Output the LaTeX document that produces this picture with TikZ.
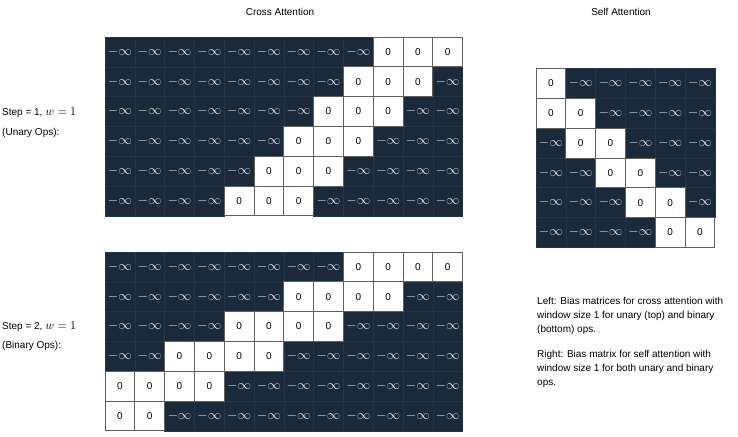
\documentclass[tikz,border=0pt]{standalone}
\usepackage{fontspec}
\setmainfont{Liberation Sans}
\definecolor{navy}{HTML}{1B2A3B}
\definecolor{gridl}{HTML}{243446}
\definecolor{ninfc}{HTML}{DCE0E4}
\newcommand{\ninfsym}{\scalebox{1.35}{$-\infty$}}
\begin{document}
\begin{tikzpicture}[x=1pt,y=-1pt,
  cellbase/.style={minimum width=29.8pt, minimum height=29.8pt, inner sep=0pt, outer sep=0pt, anchor=north west},
  ninf/.style={cellbase, fill=navy, draw=gridl, line width=0.5pt, text=ninfc},
  zero/.style={cellbase, fill=white, draw=gray!75!black, line width=0.8pt, font=\fontsize{10}{12}\selectfont},
  lbl/.style={font=\fontsize{10}{12}\selectfont, inner sep=0pt},
  para/.style={font=\fontsize{10}{14}\selectfont, inner sep=0pt, align=left, anchor=north west},
]
\useasboundingbox (0,0) rectangle (738,436);
\def\cs{29.8}
% ---- top cross attention (unary) ----
\foreach \r in {0,...,5}{
  \foreach \c in {0,...,11}{
    \pgfmathtruncatemacro{\lo}{9-\r}
    \pgfmathtruncatemacro{\hi}{11-\r}
    \ifnum\c<\lo \node[ninf] (t\r-\c) at ({105+\cs*\c},{37+\cs*\r}) {\ninfsym};\fi
    \ifnum\c>\hi \node[ninf] (t\r-\c) at ({105+\cs*\c},{37+\cs*\r}) {\ninfsym};\fi
  }}
\foreach \r in {0,...,5}{
  \foreach \c in {0,...,11}{
    \pgfmathtruncatemacro{\lo}{9-\r}
    \pgfmathtruncatemacro{\hi}{11-\r}
    \ifnum\c<\lo\else\ifnum\c>\hi\else
      \node[zero] (t\r-\c) at ({105+\cs*\c},{37+\cs*\r}) {0};
    \fi\fi
  }}
% ---- bottom cross attention (binary) ----
\foreach \r in {0,...,5}{
  \foreach \c in {0,...,11}{
    \pgfmathtruncatemacro{\lo}{8-2*\r}
    \pgfmathtruncatemacro{\hi}{11-2*\r}
    \ifnum\c<\lo \node[ninf] (b\r-\c) at ({105+\cs*\c},{252+\cs*\r}) {\ninfsym};\fi
    \ifnum\c>\hi \node[ninf] (b\r-\c) at ({105+\cs*\c},{252+\cs*\r}) {\ninfsym};\fi
  }}
\foreach \r in {0,...,5}{
  \foreach \c in {0,...,11}{
    \pgfmathtruncatemacro{\lo}{8-2*\r}
    \pgfmathtruncatemacro{\hi}{11-2*\r}
    \ifnum\c<\lo\else\ifnum\c>\hi\else
      \node[zero] (b\r-\c) at ({105+\cs*\c},{252+\cs*\r}) {0};
    \fi\fi
  }}
% ---- self attention ----
\foreach \r in {0,...,5}{
  \foreach \c in {0,...,5}{
    \pgfmathtruncatemacro{\lo}{\r-1}
    \ifnum\c<\lo \node[ninf] (s\r-\c) at ({536+\cs*\c},{68.5+\cs*\r}) {\ninfsym};\fi
    \ifnum\c>\r \node[ninf] (s\r-\c) at ({536+\cs*\c},{68.5+\cs*\r}) {\ninfsym};\fi
  }}
\foreach \r in {0,...,5}{
  \foreach \c in {0,...,5}{
    \pgfmathtruncatemacro{\lo}{\r-1}
    \ifnum\c<\lo\else\ifnum\c>\r\else
      \node[zero] (s\r-\c) at ({536+\cs*\c},{68.5+\cs*\r}) {0};
    \fi\fi
  }}
% ---- labels ----
\node[lbl] (ca) at (280,12) {Cross Attention};
\node[lbl] (sa) at (621,12) {Self Attention};
\node[lbl, anchor=west] (s1) at (2,113) {Step = 1, \scalebox{1.2}{$w=1$}};
\node[lbl, anchor=west] (u1) at (2,133) {(Unary Ops):};
\node[lbl, anchor=west] (s2) at (2,327) {Step = 2, \scalebox{1.2}{$w=1$}};
\node[lbl, anchor=west] (b2) at (2,346) {(Binary Ops):};
\node[para] (pl) at (537,297) {Left: Bias matrices for cross attention with\\window size 1 for unary (top) and binary\\(bottom) ops.};
\node[para] (pr) at (537,350) {Right: Bias matrix for self attention with\\window size 1 for both unary and binary\\ops.};
\end{tikzpicture}
\end{document}
